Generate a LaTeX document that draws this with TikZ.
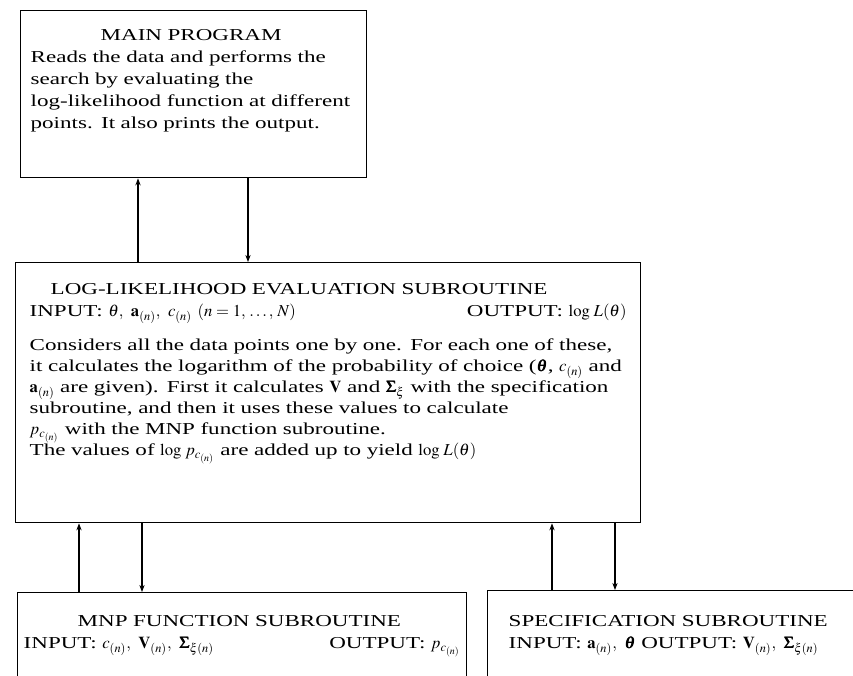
\documentclass[tikz,border=0pt]{standalone}
\usepackage{amsmath}
\usepackage{mathptmx}
\usepackage{bm}
\usepackage{fontspec}
\setmainfont[FakeStretch=1.38]{Liberation Serif}
\usetikzlibrary{arrows.meta,positioning,calc}

% one line of the paragraph, spread to the full box width
\newcommand{\fullline}[1]{\makebox[11.94cm][s]{#1}}

\begin{document}
\begin{tikzpicture}[x=0.02cm, y=-0.02cm,
            every node/.style={font=\fontsize{9.5}{12}\selectfont},
            progbox/.style={draw, rectangle, line width=0.8pt, anchor=north west,
                align=left, inner ysep=0pt},
            link/.style={line width=0.6pt, -{Stealth[length=4pt,width=3pt]}}
        ]
            \useasboundingbox (0,0) rectangle (853,676);
            \clip (0,0) rectangle (853,676);
            \node[progbox, font=\fontsize{9.5}{12.5}\selectfont, inner xsep=0.2cm,
                text width=6.52cm, text height=0.6cm, text depth=2.74cm] (main) at (20,10) {%
                \hspace*{1.4cm}MAIN PROGRAM\\
                Reads the data and performs the\\
                search by evaluating the\\
                log-likelihood function at different\\
                points. It also prints the output.};
            \node[progbox, inner xsep=0.28cm, text width=11.94cm,
                text height=0.64cm, text depth=4.56cm] (loglik) at (15,262) {%
                \hspace*{0.42cm}LOG-LIKELIHOOD EVALUATION SUBROUTINE\\[0.5pt]
                INPUT: $\theta,\ \mathbf{a}_{(n)},\ c_{(n)}\ (n = 1,\,.\,.\,.\,,\,N)$\hfill
                OUTPUT: $\log\,L(\theta)$\\[7.3pt]
                \fullline{Considers all the data points one by one. For each one of these,}\\
                \fullline{it calculates the logarithm of the probability of choice ($\bm{\theta}$, $c_{(n)}$ and}\\
                \fullline{$\mathbf{a}_{(n)}$ are given). First it calculates $\mathbf{V}$ and $\bm{\Sigma}_{\xi}$ with the specification}\\
                subroutine, and then it uses these values to calculate\\
                $p_{c_{(n)}}$ with the MNP function subroutine.\\
                The values of $\log\,p_{c_{(n)}}$ are added up to yield $\log\,L(\theta)$};
            \node[progbox, font=\fontsize{9.5}{12.5}\selectfont, inner xsep=0.12cm,
                text width=8.74cm, text height=0.68cm, text depth=2cm] (mnp) at (17,592) {%
                \hspace*{1.08cm}MNP FUNCTION SUBROUTINE\\
                INPUT: $c_{(n)},\ \mathbf{V}_{(n)},\ \bm{\Sigma}_{\xi(n)}$\hfill
                OUTPUT: $p_{c_{(n)}}$};
            \node[progbox, font=\fontsize{9.5}{12.5}\selectfont, inner xsep=0.42cm,
                text width=7.2cm, text height=0.72cm, text depth=2cm] (spec) at (487,590) {%
                SPECIFICATION SUBROUTINE\\
                INPUT: $\mathbf{a}_{(n)},\ \bm{\theta}$ OUTPUT: $\mathbf{V}_{(n)},\ \bm{\Sigma}_{\xi(n)}$};
            % arrow positions
            \coordinate (a1) at (138,0);
            \coordinate (a2) at (248,0);
            \coordinate (b1) at (79,0);
            \coordinate (b2) at (142,0);
            \coordinate (c1) at (552,0);
            \coordinate (c2) at (615,0);
            \path[link]
                (loglik.north -| a1) edge (main.south -| a1)
                (main.south -| a2) edge (loglik.north -| a2)
                (mnp.north -| b1) edge (loglik.south -| b1)
                (loglik.south -| b2) edge (mnp.north -| b2)
                (spec.north -| c1) edge (loglik.south -| c1)
                (loglik.south -| c2) edge (spec.north -| c2);
        \end{tikzpicture}
\end{document}
